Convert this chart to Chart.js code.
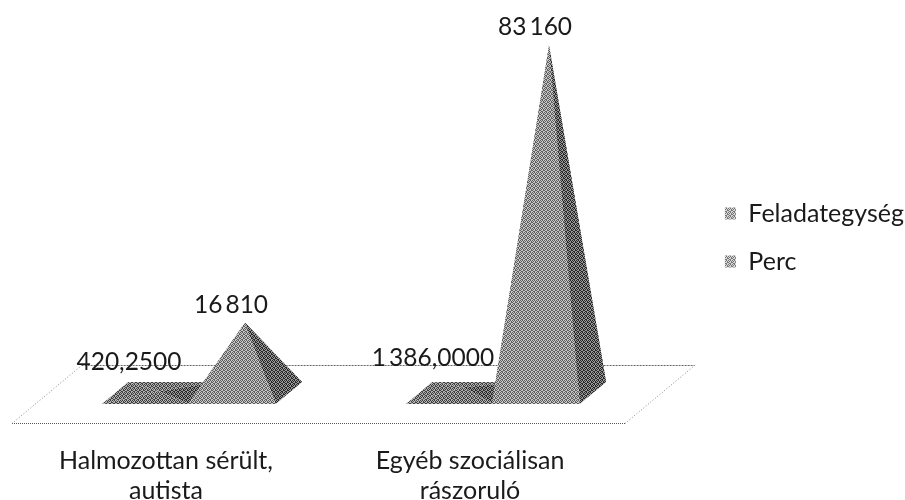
<!DOCTYPE html>
<html lang="hu">
<head>
    <meta charset="UTF-8">
    <title>Feladategység és perc</title>
    <script src="https://cdn.jsdelivr.net/npm/chart.js"></script>
    <style>
        body { margin: 0; background: #fff; }
        canvas { display: block; }
    </style>
</head>
<body>
<canvas id="chart" width="905" height="500"></canvas>
<script>
    const categories = [['Halmozottan sérült,', 'autista'], ['Egyéb szociálisan', 'rászoruló']];
    const feladategyseg = [420.25, 1386];
    const perc = [16810, 83160];
    const feladategysegLabels = ['420,2500', '1\u2009386,0000'];
    const percLabels = ['16\u2009810', '83\u2009160'];

    // 3D look: a point "rise" px back on the floor moves up by rise and right by rise * LEAN
    const LEAN = 1.2;
    const FLOOR_RISE = 58, FRONT_RISE = 19, BACK_RISE = 41;
    const INK = '#1a1a1a';

    // scanned halftone look
    function halftone(dark, light) {
        const tile = document.createElement('canvas');
        tile.width = tile.height = 4;
        const c = tile.getContext('2d');
        c.fillStyle = light;
        c.fillRect(0, 0, 4, 4);
        c.fillStyle = dark;
        [[0, 0], [2, 0], [1, 1], [3, 1], [0, 2], [3, 2], [1, 3], [2, 3]].forEach(p => c.fillRect(p[0], p[1], 1, 1));
        return c.createPattern(tile, 'repeat');
    }
    const frontFill = halftone('#5e5e5e', '#c8c8c8');
    const rightFill = halftone('#262626', '#999999');
    const baseFill = halftone('#404040', '#b0b0b0');
    const legendFill = halftone('#777777', '#d8d8d8');

    function poly(ctx, pts, fill) {
        ctx.beginPath();
        pts.forEach((p, i) => i ? ctx.lineTo(p[0], p[1]) : ctx.moveTo(p[0], p[1]));
        ctx.closePath();
        ctx.fillStyle = fill;
        ctx.fill();
    }

    function edge(ctx, x1, y1, x2, y2, dash, color) {
        ctx.setLineDash(dash);
        ctx.strokeStyle = color;
        ctx.beginPath();
        ctx.moveTo(x1, y1);
        ctx.lineTo(x2, y2);
        ctx.stroke();
    }

    function drawFloor(chart) {
        const ctx = chart.ctx, a = chart.chartArea;
        const l = a.left - 2, r = a.right + 3, b = a.bottom + 0.5, t = b - FLOOR_RISE, dx = FLOOR_RISE * LEAN;
        ctx.save();
        ctx.lineWidth = 1;
        edge(ctx, l, b, r, b, [1, 1], '#555');
        edge(ctx, l + dx, t, r + dx, t, [2, 1], '#666');
        edge(ctx, l, b, l + dx, t, [1, 2], '#888');
        edge(ctx, r, b, r + dx, t, [1, 2], '#888');
        ctx.restore();
    }

    function drawPyramid(ctx, bar, front) {
        const half = bar.width / 2;
        const fy = bar.base - FRONT_RISE, by = bar.base - BACK_RISE;
        const fs = FRONT_RISE * LEAN, bs = BACK_RISE * LEAN;
        const fl = [bar.x - half + fs, fy], fr = [bar.x + half + fs, fy];
        const bl = [bar.x - half + bs, by], br = [bar.x + half + bs, by];
        const midRise = (FRONT_RISE + BACK_RISE) / 2;
        const apex = [bar.x + midRise * LEAN, bar.y - midRise];
        poly(ctx, [fl, bl, apex], baseFill);
        poly(ctx, [bl, br, apex], baseFill);
        poly(ctx, [fr, br, apex], rightFill);
        poly(ctx, [fl, fr, apex], front);
    }

    const pyramidPlugin = {
        id: 'pyramid',
        afterLayout(chart) {
            // ticks get clipped to the scale box, so the legend is moved here instead of by padding
            chart.legend.top -= 15;
            chart.legend.bottom -= 15;
            chart.legend.left += 10;
            chart.legend.right += 10;
        },
        beforeDatasetsDraw(chart) {
            drawFloor(chart);
            chart.data.datasets.forEach((ds, i) => {
                chart.getDatasetMeta(i).data.forEach(bar => drawPyramid(chart.ctx, bar, ds.frontFace));
            });
        },
        // the bars only give the geometry, the pyramids are painted above
        beforeDatasetDraw() {
            return false;
        },
        afterDatasetsDraw(chart) {
            const ctx = chart.ctx;
            ctx.save();
            ctx.font = '24.5px Lato';
            ctx.fillStyle = INK;
            ctx.textAlign = 'center';
            ctx.textBaseline = 'middle';
            chart.data.datasets.forEach((ds, i) => {
                chart.getDatasetMeta(i).data.forEach((bar, j) => {
                    ctx.fillText(ds.valueLabels[j], bar.x + ds.labelDx, bar.y + ds.labelDy);
                });
            });
            ctx.restore();
        }
    };

    new Chart(document.getElementById('chart'), {
        type: 'bar',
        data: {
            labels: categories,
            datasets: [{
                label: 'Feladategység',
                data: feladategyseg,
                valueLabels: feladategysegLabels,
                frontFace: baseFill,
                labelDx: 6,
                labelDy: -59,
                backgroundColor: legendFill
            }, {
                label: 'Perc',
                data: perc,
                valueLabels: percLabels,
                frontFace: frontFill,
                labelDx: 22,
                labelDy: -48,
                backgroundColor: legendFill
            }]
        },
        options: {
            responsive: false,
            animation: false,
            categoryPercentage: 0.566,
            barPercentage: 1.02,
            layout: { padding: { left: 14, top: 5, right: 1 } },
            scales: {
                x: {
                    grid: { display: false },
                    border: { display: false },
                    ticks: {
                        color: INK,
                        font: { family: 'Lato', size: 25, lineHeight: 1.2 },
                        padding: 15,
                        maxRotation: 0,
                        autoSkip: false
                    },
                    afterFit(s) { s.height = 77; }
                },
                y: {
                    position: 'right',
                    min: 0,
                    max: 100000,
                    grid: { display: false },
                    border: { display: false },
                    ticks: { display: false },
                    afterFit(s) { s.width = 904 - s.chart.legend.width - 622; }
                }
            },
            plugins: {
                tooltip: { enabled: false },
                legend: {
                    position: 'right',
                    labels: {
                        color: INK,
                        font: { family: 'Lato', size: 25 },
                        boxWidth: 11,
                        boxHeight: 12,
                        padding: 23
                    }
                }
            }
        },
        plugins: [pyramidPlugin]
    });
</script>
</body>
</html>
